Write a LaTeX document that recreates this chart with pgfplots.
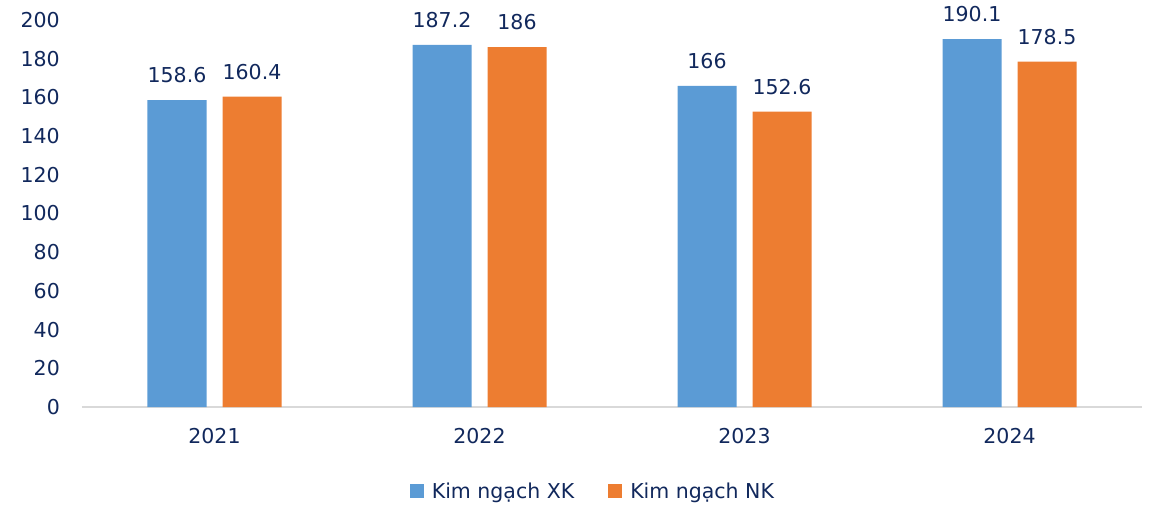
\documentclass[border=0pt]{standalone}
\usepackage{fontspec}
\setmainfont{DejaVu Sans}
\usepackage{pgfplots}
\pgfplotsset{compat=1.18}

\definecolor{xkblue}{HTML}{5B9BD5}
\definecolor{nkorange}{HTML}{ED7D31}
\definecolor{labelnavy}{RGB}{17,40,92}
\definecolor{baselinegray}{HTML}{D9D9D9}
\newcommand{\chartfont}{\fontsize{20.5bp}{24bp}\selectfont}

\begin{document}
\begin{tikzpicture}
\begin{axis}[
  name=ax,
  scale only axis,
  width=1060bp, height=387bp,
  xmin=-0.5, xmax=3.5, ymin=0, ymax=200,
  axis lines*=left,
  y axis line style={draw=none},
  x axis line style={draw=baselinegray, line width=1.5bp, -},
  major tick length=0pt,
  tick style={draw=none},
  ytick={0,20,...,200},
  xtick={0,1,2,3},
  xticklabels={2021,2022,2023,2024},
  /pgf/number format/assume math mode=true,
  yticklabel style={font=\chartfont, text=labelnavy, anchor=east, inner sep=0pt, xshift=-22bp},
  xticklabel style={font=\chartfont, text=labelnavy, anchor=center, inner sep=0pt, yshift=-29bp},
  ybar,
  bar width=59bp,
  nodes near coords,
  every node near coord/.append style={font=\chartfont, text=labelnavy, anchor=south, inner sep=0pt, yshift=17bp},
  legend columns=2,
  legend style={at={(0.482,-0.217)}, anchor=center, draw=none, fill=none,
    font=\chartfont, text=labelnavy, inner sep=0pt,
    /tikz/every odd column/.append style={column sep=6bp},
    /tikz/every even column/.append style={column sep=32bp}},
  legend image code/.code={\fill[#1] (0bp,-7bp) rectangle (14bp,7bp);},
]
% Export turnover (XK)
\addplot[fill=xkblue, draw=none, bar shift=-37.5bp]
  coordinates {(0,158.6) (1,187.2) (2,166) (3,190.1)};
% Import turnover (NK)
\addplot[fill=nkorange, draw=none, bar shift=37.5bp]
  coordinates {(0,160.4) (1,186) (2,152.6) (3,178.5)};
\legend{Kim ngạch XK, Kim ngạch NK}
\end{axis}
\pgfresetboundingbox
\path ([xshift=-82bp,yshift=-97bp]ax.south west) rectangle ([xshift=11bp,yshift=20bp]ax.north east);
\end{tikzpicture}
\end{document}
